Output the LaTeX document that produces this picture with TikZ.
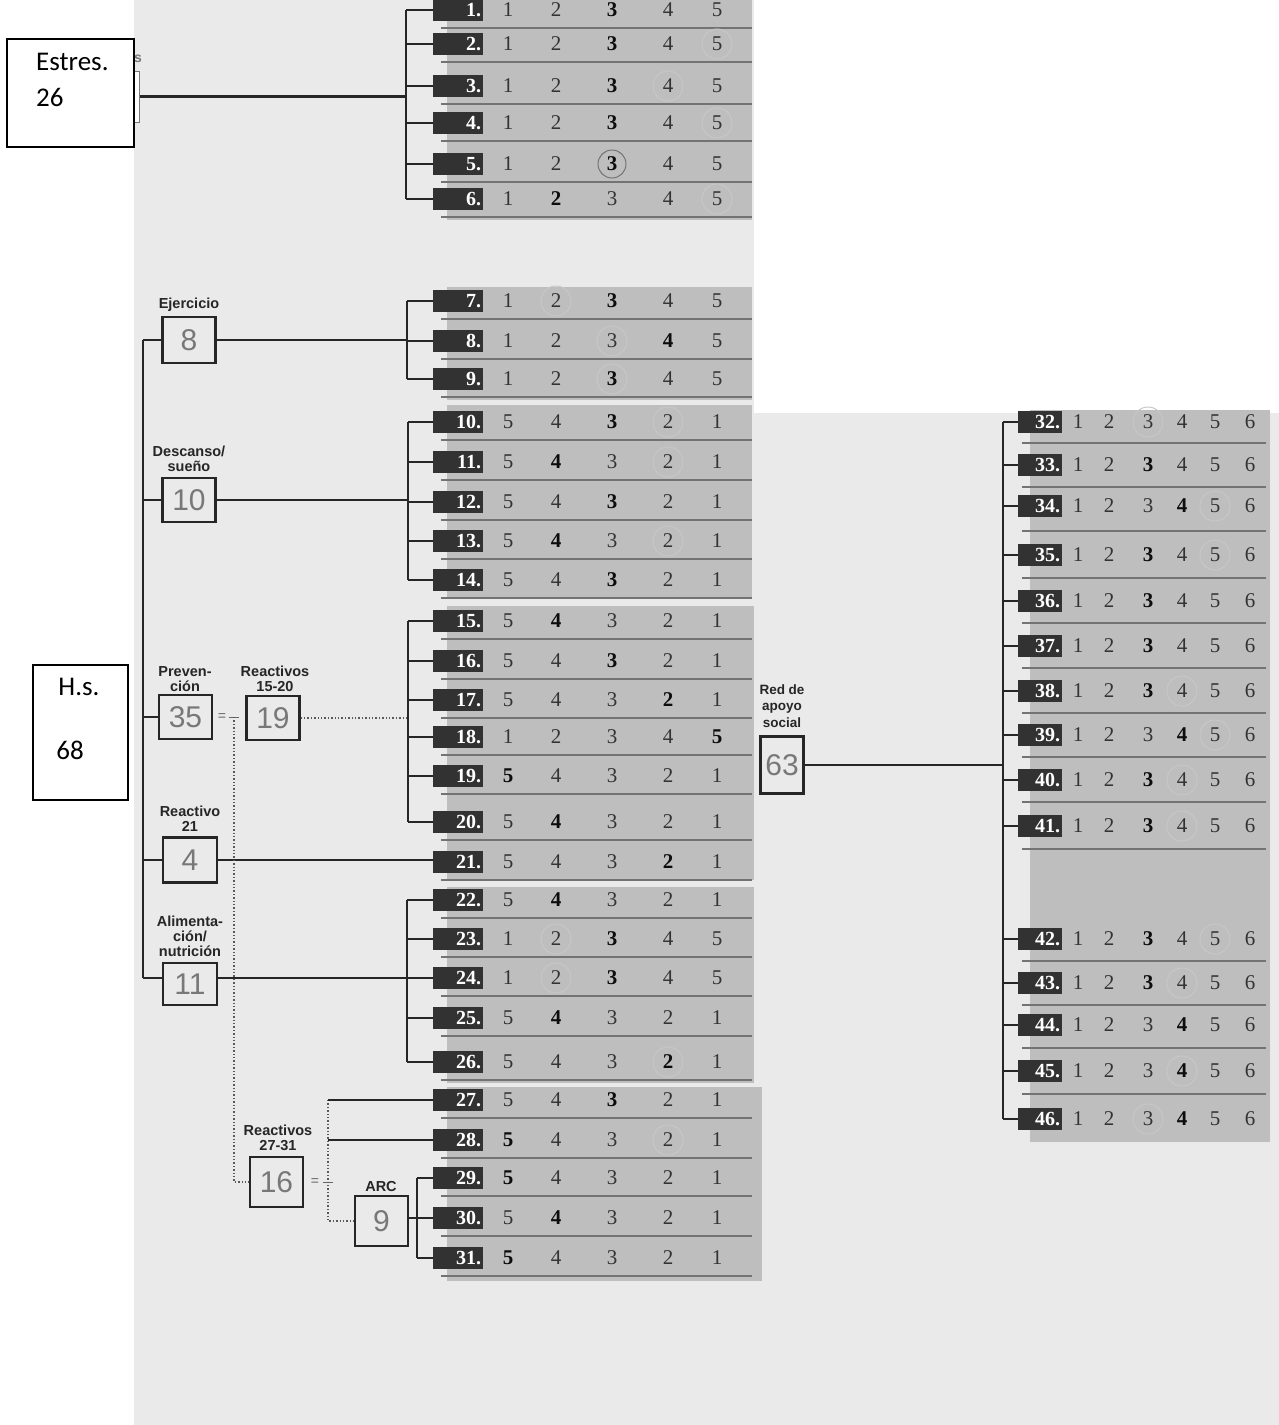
\documentclass[tikz,border=0pt]{standalone}
\usepackage{fontspec}
\setmainfont{Liberation Serif}
\setsansfont{Liberation Sans}
\newfontfamily\calib{Carlito}
\definecolor{pagebg}{RGB}{234,234,234}
\definecolor{bandgray}{RGB}{190,190,190}
\definecolor{tabdark}{RGB}{50,50,50}
\definecolor{inkgray}{RGB}{120,120,120}
\newcommand\LRow[4]{%
  \node[numtab] (r#1) at (458,#2) {#1.};
  \foreach \k/\xx in {1/508,2/556,3/612,4/668,5/717}{%
    \pgfmathtruncatemacro\vv{#3==0 ? \k : 6-\k}%
    \ifnum\k=#4\relax \node[valb] (v#1-\k) at (\xx,#2) {\vv};\else \node[val] (v#1-\k) at (\xx,#2) {\vv};\fi
  }%
  \draw[sep] (441,#2+18) -- (752,#2+18);
}
\newcommand\RRow[3]{%
  \node[numtabR] (r#1) at (1040,#2) {#1.};
  \foreach \k/\xx in {1/1078,2/1109,3/1148,4/1182,5/1215,6/1250}{%
    \ifnum\k=#3\relax \node[valb] (v#1-\k) at (\xx,#2) {\k};\else \node[val] (v#1-\k) at (\xx,#2) {\k};\fi
  }%
}
\begin{document}
\begin{tikzpicture}[x=1pt,y=-1pt,
  numtab/.style={fill=tabdark, text=white, font=\fontsize{20}{20}\selectfont\bfseries,
    minimum height=22pt, inner ysep=0pt, inner xsep=2pt, text width=46pt, align=right},
  numtabR/.style={numtab, text width=40pt},
  val/.style={font=\fontsize{21}{21}\selectfont, text=black!80, inner sep=0pt},
  valb/.style={val, font=\fontsize{21}{21}\selectfont\bfseries, text=black!95},
  sep/.style={draw=black!55, line width=1.7pt},
  conn/.style={draw=black!85, line width=2.2pt},
  dotl/.style={draw=black!65, line width=1.4pt, dotted},
  scorebox/.style={draw=black!85, line width=2.3pt, inner sep=0pt,
    font=\sffamily\fontsize{30}{30}\selectfont, text=inkgray},
  cat/.style={font=\sffamily\bfseries\fontsize{14.5}{15}\selectfont, align=center, text=black!85, inner sep=0pt},
  catn/.style={font=\sffamily\bfseries\fontsize{13.5}{16.5}\selectfont, align=center, text=black!85, inner sep=0pt},
  notebox/.style={draw=black, line width=1.8pt, fill=white, inner sep=0pt},
  notetext/.style={font=\calib\fontsize{27}{27}\selectfont, anchor=west, inner sep=0pt},
  pencil/.style={draw=black!55, line width=1pt},
  faint/.style={draw=black!22, line width=1pt},
  eqs/.style={font=\sffamily\fontsize{14}{14}\selectfont, text=black!60, inner sep=0pt}
]
\useasboundingbox (0,0) rectangle (1279,1425);
\fill[white] (0,0) rectangle (1279,1425);
% scanned page background
\fill[pagebg] (134,0) rectangle (754,1425);
\fill[pagebg] (754,413) rectangle (1279,1425);
% table bands
\fill[bandgray] (447,0) rectangle (752,220);
\fill[bandgray] (447,287) rectangle (752,400);
\fill[bandgray] (447,405) rectangle (752,599);
\fill[bandgray] (447,606) rectangle (754,880);
\fill[bandgray] (447,887) rectangle (754,1083);
\fill[bandgray] (447,1087) rectangle (762,1281);
\fill[bandgray] (1030,410) rectangle (1270,1142);

% left table rows
\foreach \n/\yy/\d/\b in {1/10/0/3, 2/44/0/3, 3/86/0/3, 4/123/0/3, 5/164/0/3, 6/199/0/2,
  7/301/0/3, 8/341/0/4, 9/379/0/3, 10/422/1/3, 11/462/1/2, 12/502/1/3, 13/541/1/2, 14/580/1/3,
  15/621/1/2, 16/661/1/3, 17/700/1/4, 18/737/0/5, 19/776/1/1, 20/822/1/2, 21/862/1/4,
  22/900/1/2, 23/939/0/3, 24/978/0/3, 25/1018/1/2, 26/1062/1/4, 27/1100/1/3, 28/1140/1/1,
  29/1178/1/1, 30/1218/1/2, 31/1258/1/1}{\LRow{\n}{\yy}{\d}{\b}}

% right table rows
\foreach \n/\yy/\b in {32/422/0, 33/465/3, 34/506/4, 35/555/3, 36/601/3, 37/646/3, 38/691/3,
  39/735/4, 40/780/3, 41/826/3, 42/939/3, 43/983/3, 44/1025/4, 45/1071/4, 46/1119/4}{\RRow{\n}{\yy}{\b}}
\foreach \yy in {443,487,531,578,623,668,713,757,802,849,961,1005,1048,1094}{\draw[sep] (1022,\yy) -- (1266,\yy);}

% pencil circles
\draw[pencil] (v5-3) circle (14);
\foreach \r/\c in {2/5,3/4,4/5,6/5,7/2,8/3,9/3,10/4,11/4,13/4,23/2,24/2,26/4,28/4,
  32/3,34/5,35/5,38/4,39/5,40/4,41/4,42/5,43/4,45/4,46/3}{\draw[faint] (v\r-\c) circle (15);}

% Estres group
\node[draw=inkgray, line width=1pt, fill=white, minimum width=5pt, minimum height=51pt, inner sep=0pt] (hid) at (136.5,96.5) {};
\node[font=\sffamily\bfseries\fontsize{14}{14}\selectfont, text=inkgray, inner sep=0pt] (hs0) at (138,59) {s};
\node[notebox, minimum width=127pt, minimum height=108pt] (es) at (70.5,93) {};
\node[notetext] (es1) at (36,62) {Estres.};
\node[notetext] (es2) at (36,97) {26};
\coordinate (sp1) at (406,98);
\draw[conn] (hid.east) -- (hid.east -| sp1);
\draw[conn] (r1.west -| sp1) -- (r6.west -| sp1);
\foreach \i in {1,...,6}{\draw[conn] (r\i.west -| sp1) -- (r\i.west);}

% H.s. box
\node[notebox, minimum width=95pt, minimum height=135pt] (hs) at (80.5,732.5) {};
\node[notetext, anchor=center] (hs1) at (79,687) {H.s.};
\node[notetext, anchor=center] (hs2) at (70,750) {68};

% Ejercicio
\node[cat] (l1) at (189,305) {Ejercicio};
\node[scorebox, minimum width=53pt, minimum height=46pt] (ej) at (189,340) {8};
\coordinate (sp2) at (407,0);
\draw[conn] (ej.east) -- (ej.east -| sp2);
\draw[conn] (r7.west -| sp2) -- (r9.west -| sp2);
\foreach \i in {7,8,9}{\draw[conn] (r\i.west -| sp2) -- (r\i.west);}

% Descanso
\node[cat] (l2) at (189,459) {Descanso/\\sueño};
\node[scorebox, minimum width=53pt, minimum height=44pt] (de) at (189,500) {10};
\coordinate (sp3) at (408,0);
\draw[conn] (de.east) -- (de.east -| sp3);
\draw[conn] (r10.west -| sp3) -- (r14.west -| sp3);
\foreach \i in {10,...,14}{\draw[conn] (r\i.west -| sp3) -- (r\i.west);}

% Prevencion
\node[cat] (l3) at (185,679) {Preven-\\ción};
\node[scorebox, minimum width=53pt, minimum height=44pt] (pr) at (185.5,717) {35};
\node[cat] (l4) at (275,679) {Reactivos\\15-20};
\node[scorebox, minimum width=53pt, minimum height=44pt] (r1520) at (273,718) {19};
\node[eqs] (eq1) at (222,717) {=};
\coordinate (p1) at (234,717);
\draw[black!60, line width=1pt] (229,717) -- (239,717);
\coordinate (sp4) at (408,0);
\draw[dotl] (r1520.east) -- (r1520.east -| sp4);
\draw[conn] (r15.west -| sp4) -- (r20.west -| sp4);
\foreach \i in {15,...,20}{\draw[conn] (r\i.west -| sp4) -- (r\i.west);}

% Reactivo 21
\node[cat] (l5) at (190,819) {Reactivo\\21};
\node[scorebox, minimum width=54pt, minimum height=45pt] (re21) at (190,860) {4};
\draw[conn] (re21.east) -- (re21.east -| r21.west);

% Alimentacion
\node[cat] (l6) at (190,936) {Alimenta-\\ción/\\nutrición};
\node[scorebox, minimum width=54pt, minimum height=42pt] (al) at (190,984) {11};
\coordinate (sp5) at (407,0);
\draw[conn] (al.east |- r24.west) -- (r24.west -| sp5);
\draw[conn] (r22.west -| sp5) -- (r26.west -| sp5);
\foreach \i in {22,...,26}{\draw[conn] (r\i.west -| sp5) -- (r\i.west);}

% main left spine
\coordinate (ms) at (143,0);
\draw[conn] (ej.west -| ms) -- (ms |- r24.west);
\foreach \b in {ej,de,pr,re21}{\draw[conn] (\b.west -| ms) -- (\b.west);}
\draw[conn] (ms |- r24.west) -- (al.west |- r24.west);

% Reactivos 27-31 and ARC
\node[cat] (l7) at (278,1138) {Reactivos\\27-31};
\node[scorebox, minimum width=53pt, minimum height=50pt] (r2731) at (276.5,1182) {16};
\draw[dotl] (p1) -- (p1 |- r2731.west) -- (r2731.west);
\node[eqs] (eq2) at (315,1182) {=};
\coordinate (p2) at (328,1182);
\draw[black!60, line width=1pt] (323,1182) -- (333,1182);
\node[cat] (l8) at (381,1186) {ARC};
\node[scorebox, minimum width=53pt, minimum height=50pt] (arc) at (381.5,1221) {9};
\draw[dotl] (p2 |- r27.west) -- (p2 |- arc.west) -- (arc.west);
\draw[conn] (p2 |- r27.west) -- (r27.west);
\draw[conn] (p2 |- r28.west) -- (r28.west);
\coordinate (sp6) at (417,0);
\draw[conn] (arc.east |- r30.west) -- (r30.west -| sp6);
\draw[conn] (r29.west -| sp6) -- (r31.west -| sp6);
\foreach \i in {29,30,31}{\draw[conn] (r\i.west -| sp6) -- (r\i.west);}

% Red de apoyo social
\node[catn] (l9) at (782,706) {Red de\\apoyo\\social};
\node[scorebox, minimum width=43pt, minimum height=57pt] (red) at (782,765) {63};
\coordinate (sp7) at (1003,0);
\draw[conn] (red.east) -- (red.east -| sp7);
\draw[conn] (r32.west -| sp7) -- (r46.west -| sp7);
\foreach \i in {32,...,46}{\draw[conn] (r\i.west -| sp7) -- (r\i.west);}
\end{tikzpicture}
\end{document}
